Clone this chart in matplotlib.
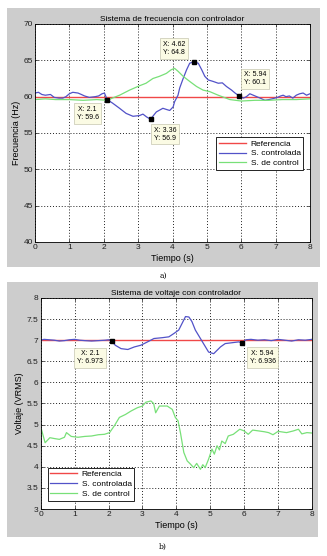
"""
Frequency and voltage control response (two MATLAB-style panels)
"""

import matplotlib
matplotlib.use('Agg')
import matplotlib.pyplot as plt
from matplotlib.patches import Rectangle

# ---- data: frequency system ----
t_freq_ctrl = [0, 0.1, 0.2, 0.3, 0.45, 0.56, 0.7, 0.81, 0.9, 1.0, 1.1, 1.25, 1.35, 1.44,
               1.58, 1.75, 1.85, 1.95, 2.02, 2.1, 2.26, 2.46, 2.65, 2.85, 3.04, 3.14, 3.25,
               3.36, 3.53, 3.72, 3.85, 3.92, 4.02, 4.06, 4.16, 4.21, 4.31, 4.41, 4.5, 4.62,
               4.75, 4.85, 4.94, 5.04, 5.18, 5.33, 5.45, 5.57, 5.72, 5.82, 5.94, 6.06, 6.15,
               6.25, 6.35, 6.45, 6.55, 6.69, 6.8, 6.9, 7.05, 7.15, 7.22, 7.3, 7.4, 7.5, 7.6,
               7.7, 7.8, 7.9, 8.0]
f_ctrl = [60.5, 60.6, 60.3, 60.2, 60.3, 59.9, 59.8, 59.8, 60.0, 60.4, 60.6, 60.5, 60.3, 60.1,
          59.9, 60.0, 60.1, 60.4, 60.5, 59.6, 59.1, 58.4, 57.7, 57.3, 57.4, 57.6, 57.2,
          56.9, 57.9, 58.4, 58.2, 58.1, 58.6, 59.3, 60.2, 61.2, 62.5, 63.7, 64.6, 64.8,
          64.6, 63.7, 62.8, 62.3, 62.1, 61.85, 61.9, 61.4, 60.9, 60.5, 60.1, 59.8, 60.0,
          60.4, 60.2, 60.0, 59.8, 59.5, 59.6, 59.7, 59.9, 60.1, 60.2, 60.0, 60.1, 59.8, 60.2,
          60.4, 60.5, 60.2, 60.4]

t_freq_sig = [0, 0.3, 0.6, 1.0, 1.4, 1.8, 2.1, 2.3, 2.46, 2.75, 3.04, 3.23, 3.43, 3.62, 3.82,
              3.96, 4.06, 4.16, 4.31, 4.5, 4.7, 4.89, 5.08, 5.33, 5.5, 5.67, 6.0, 6.4, 6.8,
              7.2, 7.6, 8.0]
f_sig = [59.6, 59.7, 59.6, 59.6, 59.5, 59.6, 59.5, 59.9, 60.2, 60.9, 61.5, 61.85, 62.5, 62.8,
         63.2, 63.7, 63.9, 63.5, 62.8, 62.1, 61.4, 60.9, 60.7, 60.2, 59.9, 59.6, 59.4, 59.5,
         59.5, 59.6, 59.6, 59.7]

f_ref = 60.0
f_tips_x = [2.1, 3.36, 4.62, 5.94]
f_tips_y = [59.6, 56.9, 64.8, 60.1]
f_tips_lbl = ['X: 2.1\nY: 59.6', 'X: 3.36\nY: 56.9', 'X: 4.62\nY: 64.8', 'X: 5.94\nY: 60.1']

# ---- data: voltage system ----
t_volt_ctrl = [0, 0.1, 0.25, 0.4, 0.55, 0.7, 0.85, 1.0, 1.15, 1.3, 1.5, 1.7, 1.9, 2.0, 2.1,
               2.2, 2.37, 2.57, 2.76, 2.95, 3.15, 3.34, 3.59, 3.78, 3.93, 4.07, 4.17, 4.27,
               4.37, 4.46, 4.56, 4.71, 4.86, 4.95, 5.1, 5.2, 5.3, 5.44, 5.64, 5.84, 5.94,
               6.05, 6.2, 6.4, 6.6, 6.8, 7.0, 7.2, 7.4, 7.6, 7.8, 8.0]
v_ctrl = [7.0, 7.02, 7.01, 7.0, 6.98, 6.99, 7.01, 7.02, 7.0, 6.99, 6.98, 6.99, 7.0, 7.01, 6.973,
          6.88, 6.8, 6.78, 6.84, 6.88, 6.96, 7.04, 7.06, 7.08, 7.16, 7.24, 7.4, 7.56,
          7.55, 7.44, 7.24, 7.04, 6.84, 6.72, 6.68, 6.76, 6.84, 6.92, 6.94, 6.96, 6.936,
          7.01, 7.02, 7.0, 7.01, 6.99, 7.02, 7.0, 6.98, 7.01, 7.0, 7.02]

t_volt_sig = [0, 0.02, 0.13, 0.27, 0.4, 0.55, 0.7, 0.76, 0.9, 1.1, 1.3, 1.5, 1.7, 1.88, 2.03,
              2.17, 2.32, 2.5, 2.66, 2.85, 3.0, 3.1, 3.25, 3.33, 3.39, 3.5, 3.73, 3.88, 3.97,
              4.05, 4.12, 4.22, 4.32, 4.42, 4.51, 4.6, 4.71, 4.78, 4.85, 4.95, 5.05, 5.12,
              5.2, 5.27, 5.34, 5.44, 5.53, 5.68, 5.87, 6.0, 6.12, 6.25, 6.43, 6.6, 6.72,
              6.85, 7.0, 7.25, 7.45, 7.6, 7.7, 7.85, 8.0]
v_sig = [4.85, 4.89, 4.57, 4.69, 4.67, 4.65, 4.7, 4.81, 4.72, 4.7, 4.72, 4.73, 4.76, 4.77, 4.81,
         4.97, 5.17, 5.24, 5.32, 5.40, 5.44, 5.53, 5.56, 5.5, 5.28, 5.44, 5.44, 5.36, 5.17,
         5.09, 4.81, 4.34, 4.14, 4.06, 3.98, 4.08, 3.94, 4.05, 3.98, 4.18, 4.42, 4.3,
         4.5, 4.4, 4.61, 4.55, 4.73, 4.77, 4.89, 4.85, 4.77, 4.87, 4.85, 4.83, 4.81,
         4.76, 4.84, 4.81, 4.85, 4.89, 4.78, 4.81, 4.80]

v_ref = 7.0
v_tips_x = [2.1, 5.94]
v_tips_y = [6.973, 6.936]
v_tips_lbl = ['X: 2.1\nY: 6.973', 'X: 5.94\nY: 6.936']

C_REF = '#f04848'
C_CTRL = '#5252c8'
C_SIG = '#78e078'
GREY = '#cdcdcd'

plt.rcParams['font.family'] = ['Liberation Sans', 'DejaVu Sans']

W, H = 327, 556
fig = plt.figure(figsize=(W / 100, H / 100), dpi=100)


def px_box(x0, y0, x1, y1):
    """pixel box (top-left origin) -> figure fraction [l, b, w, h]"""
    return [x0 / W, 1 - y1 / H, (x1 - x0) / W, (y1 - y0) / H]


# grey MATLAB figure backgrounds
for x0, y0, x1, y1 in [(7, 8, 320, 267), (7, 282, 318, 537)]:
    l, b, w, h = px_box(x0, y0, x1, y1)
    fig.patches.append(Rectangle((l, b), w, h, transform=fig.transFigure,
                                 facecolor=GREY, edgecolor='none', zorder=-5))


def style_axes(ax):
    ax.set_zorder(2)
    ax.grid(True, linestyle=(0, (1, 2)), color='#202020', linewidth=0.7)
    ax.tick_params(direction='in', labelsize=6, length=2, width=0.5,
                   top=True, right=True, pad=1.5, colors='#202020')
    for s in ax.spines.values():
        s.set_linewidth(0.6)
    ax.set_xlim(0, 8)
    ax.set_xticks(range(9))


def add_tips(ax, xs, ys, labels, offsets):
    ax.plot(xs, ys, 's', color='black', markersize=3.5, zorder=6)
    for x, y, lbl, off in zip(xs, ys, labels, offsets):
        ax.annotate(lbl, (x, y), xytext=off, textcoords='offset pixels',
                    ha='center', va='center', fontsize=5, zorder=7,
                    bbox=dict(boxstyle='square,pad=0.4', facecolor='#fbfbe4',
                              edgecolor='#b8b8a0', linewidth=0.4))


def add_legend(ax, **kw):
    leg = ax.legend(fontsize=6, fancybox=False, edgecolor='black', framealpha=1,
                    handlelength=3.2, borderpad=0.3, labelspacing=0.25,
                    handletextpad=0.6, **kw)
    leg.get_frame().set_linewidth(0.6)


# ---- panel a) ----
ax1 = fig.add_axes(px_box(35, 24, 310, 242))
ax1.plot([0, 8], [f_ref, f_ref], color=C_REF, lw=1.0, label='Referencia')
ax1.plot(t_freq_ctrl, f_ctrl, color=C_CTRL, lw=0.9, label='S. controlada')
ax1.plot(t_freq_sig, f_sig, color=C_SIG, lw=0.9, label='S. de control')
style_axes(ax1)
ax1.set_ylim(40, 70)
ax1.set_yticks(range(40, 71, 5))
ax1.set_title('Sistema de frecuencia con controlador', fontsize=6, pad=2.5)
ax1.set_xlabel('Tiempo (s)', fontsize=6.5, labelpad=2)
ax1.set_ylabel('Frecuencia (Hz)', fontsize=6.5, labelpad=2)
add_tips(ax1, f_tips_x, f_tips_y, f_tips_lbl,
         [(-19.5, -14), (14.5, -15), (-19.5, 13.5), (15.5, 17)])
add_legend(ax1, loc='upper right', bbox_to_anchor=(0.99, 0.5))

# ---- panel b) ----
ax2 = fig.add_axes(px_box(40.7, 298, 312, 509))
ax2.plot([0, 8], [v_ref, v_ref], color=C_REF, lw=1.0, label='Referencia')
ax2.plot(t_volt_ctrl, v_ctrl, color=C_CTRL, lw=0.9, label='S. controlada')
ax2.plot(t_volt_sig, v_sig, color=C_SIG, lw=0.9, label='S. de control')
style_axes(ax2)
ax2.set_ylim(3, 8)
ax2.set_yticks([3, 3.5, 4, 4.5, 5, 5.5, 6, 6.5, 7, 7.5, 8])
ax2.set_yticklabels(['3', '3.5', '4', '4.5', '5', '5.5', '6', '6.5', '7', '7.5', '8'])
ax2.set_title('Sistema de voltaje con controlador', fontsize=6, pad=2.5)
ax2.set_xlabel('Tiempo (s)', fontsize=6.5, labelpad=2)
ax2.set_ylabel('Voltaje (VRMS)', fontsize=6.5, labelpad=2)
add_tips(ax2, v_tips_x, v_tips_y, v_tips_lbl, [(-22, -16.5), (20.5, -14.5)])
add_legend(ax2, loc='lower left', bbox_to_anchor=(0.01, 0.02))

# captions
fig.text(163 / W, 1 - 276 / H, 'a)', ha='center', va='center', fontsize=5.5,
         family='DejaVu Serif')
fig.text(163 / W, 1 - 547 / H, 'b)', ha='center', va='center', fontsize=5.5,
         family='DejaVu Serif')

fig.savefig('out.png', dpi=100)
plt.close(fig)
